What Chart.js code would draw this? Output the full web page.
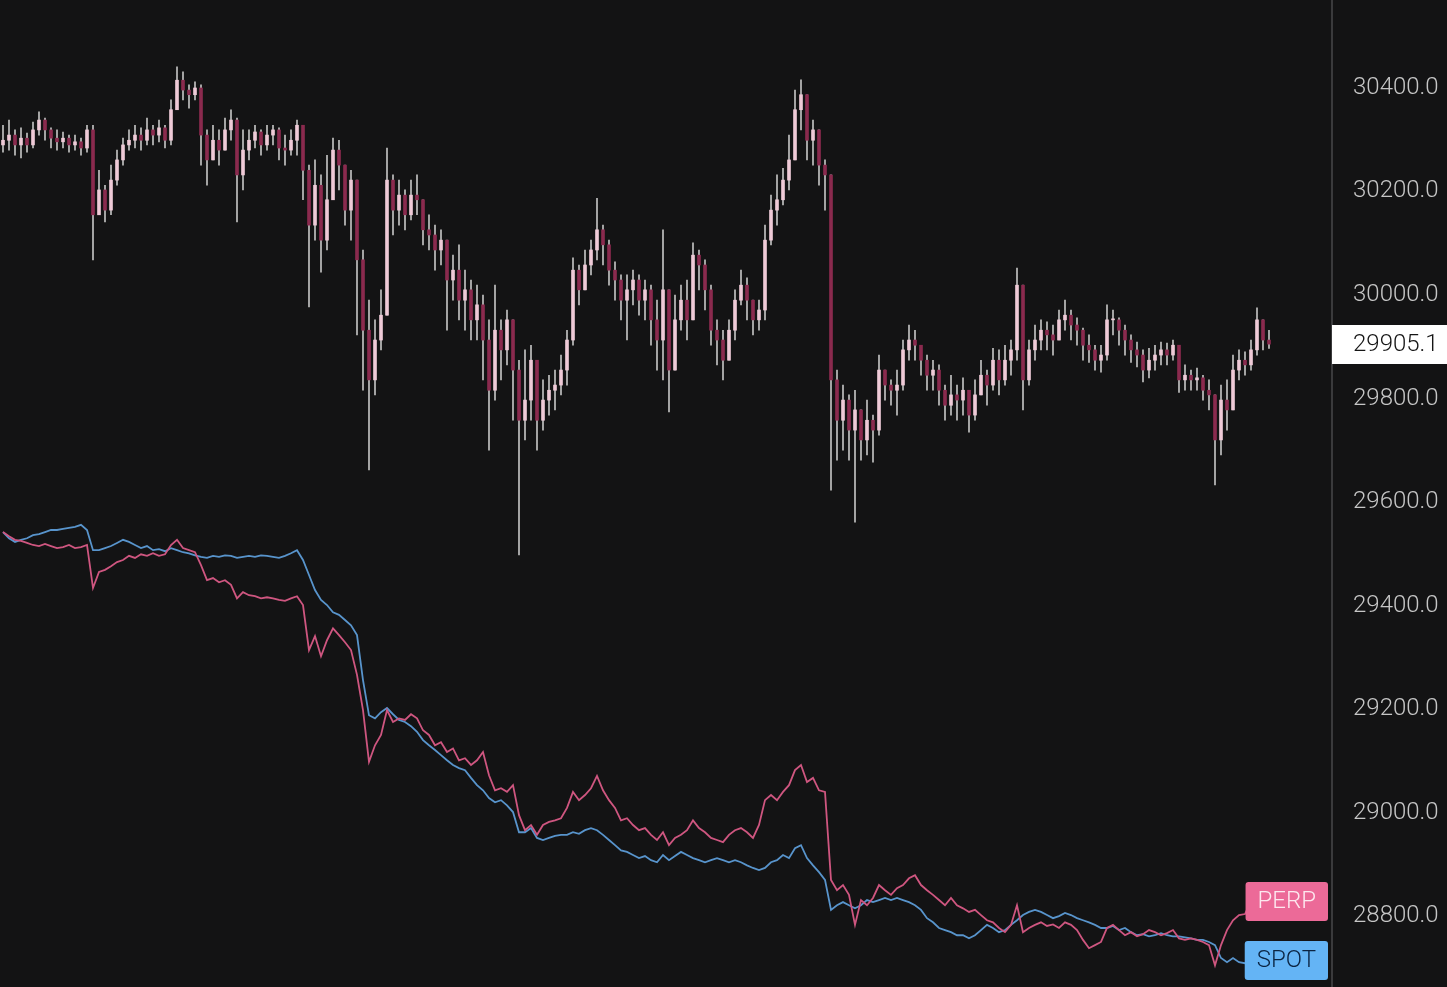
<!DOCTYPE html>
<html>
<head>
<meta charset="utf-8">
<script src="https://cdn.jsdelivr.net/npm/chart.js@4.4.1/dist/chart.umd.min.js"></script>
<style>
  html, body { margin: 0; padding: 0; background: #131314; overflow: hidden; }
  #wrap { width: 1447px; height: 987px; }
</style>
</head>
<body>
<div id="wrap"><canvas id="chart"></canvas></div>
<script>
// candles: open of each bar is the previous close
const firstOpen = 30290;
const closes = [
  30299,30309,30290,30303,30290,30319,30338,30319,30303,30296,
  30303,30290,30296,30284,30319,30155,30203,30164,30222,30261,
  30290,30299,30309,30299,30319,30309,30323,30299,30358,30415,
  30396,30387,30400,30309,30261,30299,30280,30319,30338,30232,
  30280,30299,30315,30290,30309,30319,30284,30280,30299,30328,
  30241,30135,30212,30106,30184,30280,30251,30164,30222,30068,
  29932,29836,29913,29961,30222,30164,30193,30155,30193,30184,
  30126,30116,30087,30106,30029,30048,29990,30010,29952,29981,
  29913,29816,29932,29894,29952,29855,29758,29797,29874,29758,
  29797,29816,29826,29855,29913,30048,30010,30058,30087,30126,
  30097,30048,30029,29990,30010,30029,29990,30010,29952,29913,
  30010,29855,29952,29990,29952,30077,30058,30010,29932,29913,
  29874,29932,29990,30019,29990,29952,29971,30106,30164,30184,
  30222,30261,30358,30387,30299,30319,30251,30232,29836,29758,
  29797,29739,29778,29720,29758,29739,29855,29826,29816,29826,
  29894,29913,29903,29874,29845,29855,29816,29787,29807,29797,
  29816,29768,29807,29845,29826,29874,29836,29874,29894,30019,
  29836,29894,29913,29932,29923,29913,29952,29961,29942,29932,
  29903,29894,29874,29884,29952,29952,29932,29913,29894,29884,
  29855,29874,29884,29894,29884,29903,29836,29845,29836,29840,
  29816,29807,29720,29797,29778,29855,29874,29865,29894,29952,
  29913,29905.1
];
const highs = [
  30328,30338,30319,30323,30313,30334,30354,30342,30323,30319,
  30315,30309,30309,30303,30328,30328,30241,30212,30251,30280,
  30303,30319,30328,30323,30342,30328,30338,30328,30377,30441,
  30431,30406,30412,30406,30319,30328,30319,30342,30358,30342,
  30319,30319,30328,30319,30328,30328,30323,30309,30319,30338,
  30319,30251,30261,30232,30270,30303,30299,30251,30241,30203,
  30087,29990,29952,30010,30284,30232,30222,30203,30222,30232,
  30184,30155,30135,30126,30106,30077,30097,30048,30029,30019,
  30000,29952,30019,29952,29971,29952,29874,29894,29903,29874,
  29836,29845,29855,29884,29932,30072,30058,30087,30106,30187,
  30135,30106,30064,30039,30039,30048,30039,30029,30019,29990,
  30126,29990,30000,30019,30029,30101,30087,30068,30019,29952,
  29932,29952,30010,30048,30033,29990,29990,30135,30193,30232,
  30245,30309,30396,30416,30368,30338,30299,30261,30232,29855,
  29826,29807,29816,29778,29797,29768,29884,29855,29836,29855,
  29913,29942,29932,29903,29884,29874,29865,29826,29845,29826,
  29840,29816,29836,29874,29855,29897,29894,29903,29913,30052,
  30019,29913,29942,29952,29948,29942,29971,29990,29971,29956,
  29936,29923,29903,29903,29981,29971,29956,29942,29923,29909,
  29894,29897,29903,29909,29907,29913,29903,29865,29855,29859,
  29845,29836,29807,29826,29836,29884,29894,29890,29913,29975,
  29952,29932
];
const lows = [
  30276,30280,30270,30265,30276,30284,30309,30299,30284,30280,
  30284,30276,30280,30270,30276,30068,30155,30141,30155,30212,
  30251,30280,30284,30280,30290,30290,30296,30284,30290,30368,
  30377,30361,30377,30251,30212,30261,30251,30280,30299,30141,
  30203,30261,30284,30270,30280,30290,30261,30251,30270,30270,
  30184,29977,30106,30044,30087,30184,30203,30135,30106,29923,
  29816,29662,29807,29894,29961,30116,30135,30126,30145,30155,
  30097,30087,30048,30058,29932,29990,29952,29932,29913,29913,
  29836,29700,29797,29836,29865,29758,29498,29720,29758,29700,
  29739,29768,29778,29807,29826,29903,29981,30010,30039,30068,
  30058,30019,29990,29952,29913,29981,29961,29952,29903,29855,
  29836,29774,29903,29932,29913,29990,30010,29971,29903,29865,
  29836,29884,29913,29981,29952,29923,29932,29952,30097,30135,
  30174,30203,30299,30319,30261,30251,30212,30164,29623,29681,
  29700,29681,29561,29681,29691,29677,29729,29797,29787,29768,
  29816,29874,29874,29845,29816,29816,29787,29758,29768,29758,
  29768,29735,29758,29807,29787,29816,29807,29826,29845,29874,
  29778,29826,29874,29894,29894,29884,29913,29932,29913,29903,
  29874,29870,29855,29851,29874,29923,29903,29884,29870,29861,
  29832,29840,29855,29865,29865,29874,29812,29816,29816,29816,
  29797,29778,29633,29691,29739,29797,29836,29845,29855,29884,
  29894,29897
];

const perp = [
  29542,29534,29527,29525,29521,29517,29515,29519,29515,29511,
  29513,29517,29511,29513,29517,29434,29465,29469,29476,29484,
  29488,29496,29492,29499,29496,29501,29496,29499,29517,29527,
  29511,29507,29503,29478,29449,29453,29445,29449,29440,29414,
  29426,29420,29418,29414,29416,29414,29411,29409,29414,29418,
  29401,29314,29341,29302,29333,29356,29343,29329,29314,29266,
  29198,29098,29130,29150,29198,29175,29182,29179,29190,29182,
  29159,29150,29130,29136,29117,29124,29101,29105,29092,29101,
  29117,29072,29043,29047,29040,29053,28995,28966,28976,28957,
  28976,28982,28985,28989,29009,29040,29024,29034,29047,29071,
  29043,29024,29009,28985,28989,28976,28966,28970,28957,28947,
  28962,28937,28951,28957,28966,28985,28970,28962,28951,28947,
  28943,28957,28966,28970,28962,28951,28976,29024,29034,29024,
  29040,29053,29082,29092,29059,29067,29043,29040,28870,28850,
  28860,28841,28783,28831,28821,28835,28860,28850,28841,28854,
  28860,28873,28879,28860,28850,28841,28831,28821,28835,28821,
  28815,28808,28812,28802,28792,28788,28777,28769,28783,28821,
  28769,28777,28783,28788,28781,28784,28777,28788,28783,28773,
  28754,28738,28744,28750,28777,28783,28773,28763,28769,28761,
  28765,28773,28769,28763,28767,28773,28757,28754,28757,28754,
  28750,28744,28705,28744,28773,28792,28802,28804,28829,28829
];
const spot = [
  29542,29530,29523,29527,29530,29536,29538,29542,29546,29546,
  29548,29550,29552,29556,29546,29507,29507,29511,29515,29521,
  29527,29523,29517,29511,29515,29507,29509,29505,29511,29507,
  29503,29501,29497,29494,29492,29496,29494,29497,29496,29492,
  29494,29496,29494,29497,29496,29494,29492,29496,29501,29507,
  29488,29459,29430,29411,29401,29387,29382,29372,29362,29343,
  29256,29188,29182,29194,29202,29190,29179,29175,29167,29156,
  29140,29130,29121,29111,29101,29092,29086,29082,29067,29053,
  29043,29028,29020,29024,29014,29001,28962,28962,28970,28951,
  28947,28951,28955,28957,28957,28962,28959,28966,28970,28966,
  28957,28947,28937,28927,28924,28918,28912,28916,28908,28904,
  28918,28908,28916,28924,28918,28912,28908,28904,28908,28912,
  28908,28904,28908,28904,28898,28893,28889,28893,28904,28908,
  28918,28912,28931,28937,28912,28898,28885,28870,28812,28821,
  28827,28821,28815,28821,28831,28827,28831,28835,28831,28835,
  28831,28827,28821,28812,28796,28788,28777,28773,28769,28763,
  28763,28757,28763,28773,28783,28777,28769,28773,28783,28792,
  28802,28808,28812,28808,28802,28796,28800,28806,28802,28796,
  28792,28788,28783,28777,28777,28781,28773,28777,28769,28763,
  28765,28761,28763,28767,28763,28761,28761,28759,28757,28754,
  28754,28750,28744,28719,28711,28719,28711,28709,28715,28715
];

const yTicks = [28800, 29000, 29200, 29400, 29600, 29800, 30000, 30200, 30400];
const slotCount = 222; // 212 bars plus empty space on the right
const FONT = 'Roboto, "DejaVu Sans Condensed", sans-serif';

const labels = Array.from({ length: slotCount }, (_, i) => i);
const opens = closes.map((c, i) => i === 0 ? firstOpen : closes[i - 1]);
const bodies = closes.map((c, i) => [opens[i], c]);
const wicks = closes.map((c, i) => [
  Math.min(lows[i], opens[i], c),
  Math.max(highs[i], opens[i], c)
]);
const bodyColors = closes.map((c, i) => c >= opens[i] ? '#efcad7' : '#8a2a4e');

const tagPlugin = {
  id: 'tags',
  afterDraw(chart) {
    const { ctx, chartArea } = chart;
    const y = chart.scales.y;
    ctx.save();
    ctx.font = '300 24px ' + FONT;
    ctx.textBaseline = 'middle';

    // last price box on the axis
    const last = closes[closes.length - 1];
    const py = Math.round(y.getPixelForValue(last));
    ctx.fillStyle = '#ffffff';
    ctx.fillRect(chartArea.right, py - 19, chart.width - chartArea.right, 39);
    ctx.fillStyle = '#151515';
    ctx.textAlign = 'left';
    ctx.fillText(last.toFixed(1), chartArea.right + 21, py + 1);

    // series tags
    const tags = [
      ['PERP', perp, '#ec6a98', '#fde8ef'],
      ['SPOT', spot, '#64b4f5', '#0b2442']
    ];
    tags.forEach(([name, arr, bg, fg]) => {
      const ty = Math.round(y.getPixelForValue(arr[arr.length - 1]));
      const w = ctx.measureText(name).width + 24;
      const x1 = chartArea.right - 4;
      ctx.fillStyle = bg;
      ctx.beginPath();
      ctx.roundRect(x1 - w, ty - 19, w, 39, 3);
      ctx.fill();
      ctx.fillStyle = fg;
      ctx.textAlign = 'center';
      ctx.fillText(name, x1 - w / 2, ty + 1);
    });
    ctx.restore();
  }
};

new Chart(document.getElementById('chart'), {
  data: {
    labels: labels,
    datasets: [
      {
        type: 'line',
        label: 'PERP',
        data: perp,
        borderColor: '#cf5680',
        borderWidth: 1.8,
        pointRadius: 0,
        tension: 0,
        order: -2
      },
      {
        type: 'line',
        label: 'SPOT',
        data: spot,
        borderColor: '#5894cc',
        borderWidth: 1.8,
        pointRadius: 0,
        tension: 0,
        order: -1
      },
      {
        type: 'bar',
        label: 'body',
        data: bodies,
        backgroundColor: bodyColors,
        barThickness: 3,
        minBarLength: 1,
        grouped: false,
        order: 0
      },
      {
        type: 'bar',
        label: 'wick',
        data: wicks,
        backgroundColor: '#c2c2c2',
        barThickness: 1,
        grouped: false,
        order: 1
      }
    ]
  },
  options: {
    responsive: true,
    maintainAspectRatio: false,
    animation: false,
    layout: { padding: 0 },
    plugins: { legend: { display: false }, tooltip: { enabled: false } },
    scales: {
      x: {
        type: 'category',
        display: false,
        offset: true
      },
      y: {
        position: 'right',
        min: 28663,
        max: 30570,
        grid: { display: false },
        border: { display: true, color: '#3a3a3c', width: 2 },
        afterFit: s => {
          s.width = 115;
          s.paddingTop = 0;
          s.paddingBottom = 0;
        },
        afterBuildTicks: s => { s.ticks = yTicks.map(v => ({ value: v })); },
        ticks: {
          autoSkip: false,
          padding: 13,
          color: '#c6c6c6',
          font: { family: FONT, size: 24, weight: '300' },
          callback: v => Number(v).toFixed(1)
        }
      }
    }
  },
  plugins: [tagPlugin]
});
</script>
</body>
</html>
